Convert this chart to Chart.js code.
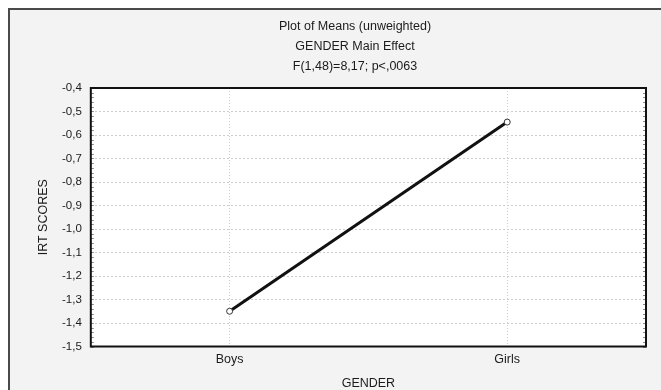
<!DOCTYPE html>
<html>
<head>
<meta charset="utf-8">
<script src="https://cdn.jsdelivr.net/npm/chart.js@4/dist/chart.umd.min.js"></script>
<style>
  html, body { margin: 0; padding: 0; background: #fff; overflow: hidden; }
  #frame {
    position: absolute; left: 8px; top: 8px;
    width: 720px; height: 400px;
    border-top: 2px solid #4a4a4a; border-left: 2px solid #4a4a4a;
    background: #f3f3f3;
  }
  #meansChart { display: block; }
</style>
</head>
<body>
<div id="frame"><canvas id="meansChart" width="690" height="382"></canvas></div>
<script>
const titleLines = ['Plot of Means (unweighted)', 'GENDER Main Effect', 'F(1,48)=8,17; p<,0063'];
const categories = ['Boys', 'Girls'];
const meanScores = [-1.35, -0.545];
const yMin = -1.5;
const yMax = -0.4;
const yStep = 0.1;
const minorStep = 0.02;
const xTitle = 'GENDER';
const yTitle = 'IRT SCORES';

const fontFamily = '"Liberation Sans", Arial, sans-serif';
const textColor = '#1b1b1b';

// comma decimals, like the statistics package output
const fmt = v => v.toFixed(1).replace('.', ',');

// white plot area, black box round it and small inward ticks on both sides
const plotBox = {
  id: 'plotBox',
  beforeDraw(chart) {
    const { ctx, chartArea: a } = chart;
    ctx.save();
    ctx.fillStyle = '#fff';
    ctx.fillRect(a.left, a.top, a.right - a.left, a.bottom - a.top);
    ctx.restore();
  },
  afterDraw(chart) {
    const { ctx, chartArea: a } = chart;
    const y = chart.scales.y;
    ctx.save();
    ctx.strokeStyle = '#8a8a8a';
    ctx.lineWidth = 1;
    for (let v = yMin; v <= yMax + 1e-9; v += minorStep) {
      const py = Math.round(y.getPixelForValue(v)) + 0.5;
      ctx.beginPath();
      ctx.moveTo(a.left, py); ctx.lineTo(a.left + 3, py);
      ctx.moveTo(a.right, py); ctx.lineTo(a.right - 3, py);
      ctx.stroke();
    }
    ctx.strokeStyle = '#111';
    ctx.lineWidth = 2;
    ctx.strokeRect(a.left, a.top, a.right - a.left, a.bottom - a.top);
    ctx.restore();
  }
};

const ctx = document.getElementById('meansChart').getContext('2d');
new Chart(ctx, {
  type: 'line',
  data: {
    labels: categories,
    datasets: [{
      data: meanScores,
      borderColor: '#111',
      borderWidth: 3,
      tension: 0,
      pointRadius: 3,
      pointBackgroundColor: '#fff',
      pointBorderColor: '#333',
      pointBorderWidth: 1
    }]
  },
  options: {
    responsive: false,
    animation: false,
    devicePixelRatio: 1,
    layout: { padding: 0 },
    plugins: {
      legend: { display: false },
      tooltip: { enabled: false },
      title: {
        display: true,
        text: titleLines,
        color: textColor,
        font: { family: fontFamily, size: 12.5, weight: 'normal', lineHeight: 1.6 },
        padding: { top: 7, bottom: 11 }
      }
    },
    scales: {
      x: {
        type: 'category',
        offset: true,
        grid: { color: '#cdcdcd', drawTicks: false, offset: false },
        border: { display: false, dash: [1, 2] },
        ticks: { color: textColor, padding: 5.5, font: { family: fontFamily, size: 12.5 } },
        title: {
          display: true, text: xTitle, color: textColor,
          font: { family: fontFamily, size: 12.5 },
          padding: { top: 4, bottom: 0.5 }
        }
      },
      y: {
        min: yMin,
        max: yMax,
        grid: { color: '#cdcdcd', drawTicks: false },
        border: { display: false, dash: [2, 2] },
        ticks: {
          stepSize: yStep,
          color: textColor,
          padding: 9,
          font: { family: fontFamily, size: 11.5 },
          callback: v => fmt(v)
        },
        title: {
          display: true, text: yTitle, color: textColor,
          font: { family: fontFamily, size: 12.5 },
          padding: { top: 26.5, bottom: 1.5 }
        }
      },
      // empty right-hand axis that only keeps a margin beside the plot
      yRight: {
        type: 'linear',
        position: 'right',
        min: yMin,
        max: yMax,
        grid: { display: false },
        border: { display: false },
        ticks: { display: false },
        afterFit: scale => { scale.width = 54; }
      }
    }
  },
  plugins: [plotBox]
});
</script>
</body>
</html>
